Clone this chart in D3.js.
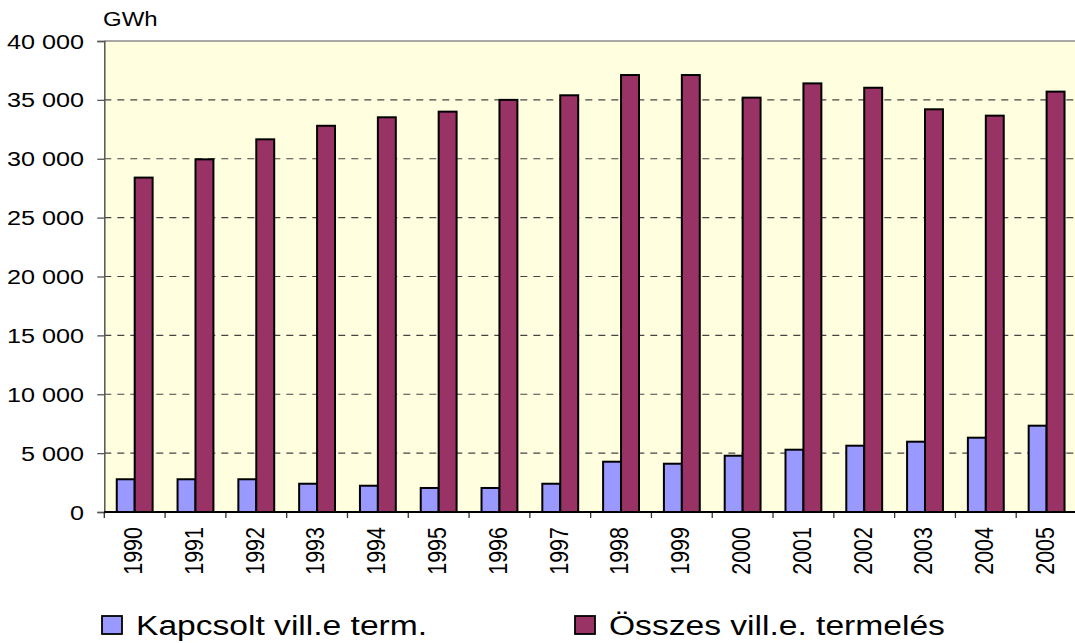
<!DOCTYPE html>
<html>
<head>
<meta charset="utf-8">
<script src="https://cdn.jsdelivr.net/npm/d3@7"></script>
<style>
body { margin: 0; background: #fff; }
svg { display: block; font-family: "Liberation Sans", Arial, sans-serif; }
</style>
</head>
<body>
<svg id="chart"></svg>
<script>
// data
var years = ["1990","1991","1992","1993","1994","1995","1996","1997",
             "1998","1999","2000","2001","2002","2003","2004","2005"];
var kapcsolt = [2780, 2780, 2780, 2400, 2230, 2040, 2040, 2400,
                4270, 4100, 4780, 5290, 5630, 5970, 6310, 7330];
var osszes = [28400, 29950, 31650, 32800, 33520, 34000, 35000, 35390,
              37110, 37110, 35190, 36400, 36030, 34200, 33660, 35700];
var seriesNames = ["Kapcsolt vill.e term.", "Összes vill.e. termelés"];
var seriesColors = ["#9999ff", "#993366"];
var yTicks = [0, 5000, 10000, 15000, 20000, 25000, 30000, 35000, 40000];

var WIDTH = 1075, HEIGHT = 643;
var plotL = 104.3, plotR = 1077, plotT = 41, plotB = 512;
var SX = 1.2; // text in the picture is drawn wider than normal

var svg = d3.select("#chart").attr("width", WIDTH).attr("height", HEIGHT);

var x0 = d3.scaleBand().domain(years).range([plotL, plotR]).paddingInner(0.41).paddingOuter(0.205);
var x1 = d3.scaleBand().domain([0, 1]).range([0, x0.bandwidth()]);
var y = d3.scaleLinear().domain([0, 40000]).range([plotB, plotT]);

// plot background
svg.append("rect")
    .attr("x", plotL).attr("y", plotT)
    .attr("width", plotR - plotL).attr("height", plotB - plotT)
    .attr("fill", "#ffffe0");

// dashed grid
svg.append("g").selectAll("line")
    .data(yTicks.filter(function(d) { return d > 0 && d < 40000; }))
    .enter().append("line")
    .attr("x1", plotL).attr("x2", plotR)
    .attr("y1", function(d) { return y(d); })
    .attr("y2", function(d) { return y(d); })
    .attr("stroke", "#444").attr("stroke-width", 1.2)
    .attr("stroke-dasharray", "7,6");

// top border
svg.append("line")
    .attr("x1", plotL).attr("x2", plotR).attr("y1", plotT).attr("y2", plotT)
    .attr("stroke", "#8c8c8c").attr("stroke-width", 1.5);

// bars
var rows = years.map(function(yr, i) { return { year: yr, vals: [kapcsolt[i], osszes[i]] }; });
var grp = svg.append("g").selectAll("g")
    .data(rows).enter().append("g")
    .attr("transform", function(d) { return "translate(" + x0(d.year) + ",0)"; });
grp.selectAll("rect")
    .data(function(d) { return d.vals.map(function(v, k) { return { k: k, v: v }; }); })
    .enter().append("rect")
    .attr("x", function(d) { return x1(d.k); })
    .attr("width", x1.bandwidth())
    .attr("y", function(d) { return y(d.v); })
    .attr("height", function(d) { return y(0) - y(d.v); })
    .attr("fill", function(d) { return seriesColors[d.k]; })
    .attr("stroke", "#000").attr("stroke-width", 2);

// y axis
var yAxis = d3.axisLeft(y).tickValues(yTicks).tickSize(7).tickFormat("");
var gy = svg.append("g").attr("transform", "translate(" + plotL + ",0)").call(yAxis);
gy.select(".domain").attr("stroke", "#555").attr("stroke-width", 1.5);
gy.selectAll(".tick line").attr("stroke", "#555").attr("stroke-width", 1.3);

var fmt = function(d) { return d3.format(",")(d).replace(/,/g, " "); };
svg.append("g").selectAll("text")
    .data(yTicks).enter().append("text")
    .attr("transform", function(d) { return "translate(84," + y(d) + ") scale(" + SX + ",1)"; })
    .attr("text-anchor", "end").attr("dy", "0.36em")
    .attr("font-size", 21).attr("fill", "#000")
    .text(fmt);

// x axis
var bandEdges = years.map(function(d) { return x0(d) - x0.step() * x0.paddingOuter(); });
bandEdges.push(plotR);
svg.append("g").selectAll("line")
    .data(bandEdges).enter().append("line")
    .attr("x1", function(d) { return d; }).attr("x2", function(d) { return d; })
    .attr("y1", plotB).attr("y2", plotB + 6)
    .attr("stroke", "#333").attr("stroke-width", 1.3);
svg.append("line")
    .attr("x1", plotL).attr("x2", plotR).attr("y1", plotB).attr("y2", plotB)
    .attr("stroke", "#000").attr("stroke-width", 1.8);

svg.append("g").selectAll("text")
    .data(years).enter().append("text")
    .attr("transform", function(d) {
        return "translate(" + (x0(d) + x0.bandwidth() / 2 - 2) + ",527) scale(" + SX + ",1) rotate(-90)";
    })
    .attr("text-anchor", "end").attr("dy", "0.36em")
    .attr("font-size", 21.5).attr("fill", "#000")
    .text(function(d) { return d; });

// unit
svg.append("text")
    .attr("transform", "translate(103,26) scale(" + SX + ",1)")
    .attr("font-size", 20).attr("fill", "#000")
    .text("GWh");

// legend
var legX = [102, 575];
var leg = svg.append("g").selectAll("g")
    .data(seriesNames).enter().append("g")
    .attr("transform", function(d, i) { return "translate(" + legX[i] + ",616)"; });
leg.append("rect")
    .attr("x", 0).attr("y", 0).attr("width", 20).attr("height", 18)
    .attr("fill", function(d, i) { return seriesColors[i]; })
    .attr("stroke", "#000").attr("stroke-width", 1.8);
leg.append("text")
    .attr("transform", "translate(34,19) scale(" + SX + ",1)")
    .attr("font-size", 28).attr("fill", "#000")
    .text(function(d) { return d; });
</script>
</body>
</html>
